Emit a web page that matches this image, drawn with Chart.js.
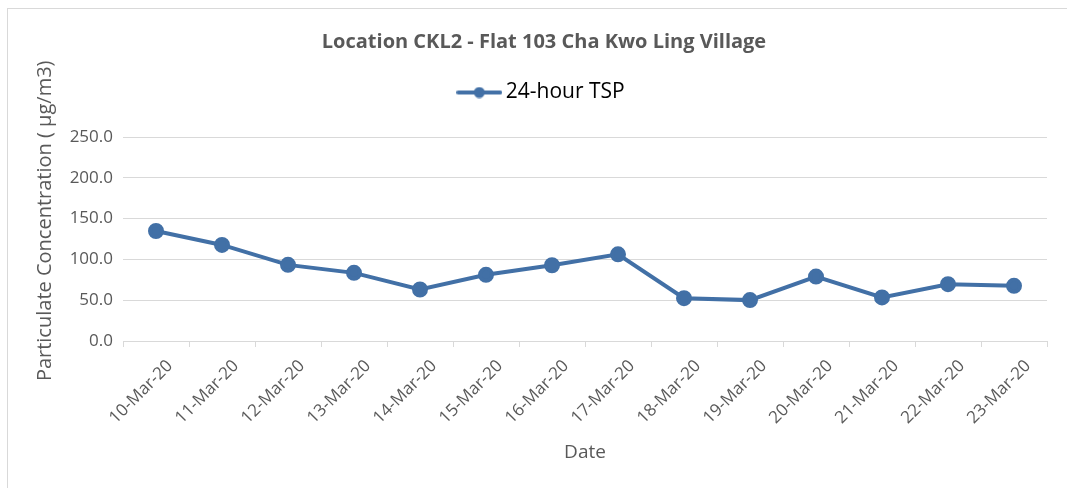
<!DOCTYPE html>
<html>
<head>
<meta charset="utf-8">
<script src="https://cdn.jsdelivr.net/npm/chart.js@4/dist/chart.umd.min.js"></script>
<style>
  html, body { margin: 0; padding: 0; background: #fff; }
  #wrap { position: relative; width: 1067px; height: 488px; }
  #frame { position: absolute; left: 7px; top: 8px; width: 1070px; height: 490px; border: 1px solid #d9d9d9; box-sizing: border-box; }
  canvas { position: absolute; left: 0; top: 0; }
</style>
</head>
<body>
<div id="wrap">
  <div id="frame"></div>
  <canvas id="myChart" width="1067" height="488"></canvas>
</div>
<script>
const dates = ['10-Mar-20', '11-Mar-20', '12-Mar-20', '13-Mar-20', '14-Mar-20', '15-Mar-20', '16-Mar-20',
    '17-Mar-20', '18-Mar-20', '19-Mar-20', '20-Mar-20', '21-Mar-20', '22-Mar-20', '23-Mar-20'];
const tsp = [134.8, 117.7, 93.3, 83.5, 63.1, 81.1, 92.8, 106.2, 52.5, 50.1, 79.0, 53.4, 69.6, 67.6];
const seriesName = '24-hour TSP';

const blue = '#4270a6';
const grey = '#595959';
const font = '"Open Sans", "Noto Sans", sans-serif';

// legend marker: line with a dot, like the office chart
const marker = document.createElement('canvas');
marker.width = 46;
marker.height = 12;
const m = marker.getContext('2d');
m.strokeStyle = blue;
m.lineWidth = 4;
m.lineCap = 'round';
m.beginPath();
m.moveTo(2, 6);
m.lineTo(44, 6);
m.stroke();
m.fillStyle = blue;
m.beginPath();
m.arc(23, 6, 5.5, 0, Math.PI * 2);
m.fill();

// leaves some room between the legend and the plot
const legendGap = {
    id: 'legendGap',
    beforeInit(chart) {
        const fit = chart.legend.fit;
        chart.legend.fit = function () {
            fit.call(this);
            this.height += 24;
        };
    },
};

const ctx = document.getElementById('myChart').getContext('2d');

new Chart(ctx, {
    type: 'line',
    plugins: [legendGap],
    data: {
        labels: dates,
        datasets: [
            {
                label: seriesName,
                data: tsp,
                borderColor: blue,
                backgroundColor: blue,
                borderWidth: 4,
                pointRadius: 6,
                pointHoverRadius: 6,
                pointStyle: 'circle',
                tension: 0,
                fill: false,
            },
        ],
    },
    options: {
        responsive: false,
        animation: false,
        layout: {
            padding: { left: 41, right: 20, top: 20, bottom: 10 },
        },
        plugins: {
            title: {
                display: true,
                text: 'Location CKL2 - Flat 103 Cha Kwo Ling Village',
                color: grey,
                font: { family: font, size: 20, weight: 'bold' },
                padding: { top: 10, bottom: 4 },
            },
            legend: {
                display: true,
                position: 'top',
                labels: {
                    usePointStyle: true,
                    pointStyle: marker,
                    pointStyleWidth: 32,
                    color: '#000',
                    font: { family: font, size: 21 },
                    padding: 24,
                    generateLabels: (chart) => [{
                        text: seriesName,
                        pointStyle: marker,
                        fontColor: '#000',
                        datasetIndex: 0,
                        lineWidth: 0,
                    }],
                },
            },
            tooltip: { enabled: false },
        },
        scales: {
            x: {
                offset: true,
                afterFit: (s) => { s.height = 137; },
                grid: {
                    offset: true,
                    drawOnChartArea: false,
                    drawTicks: true,
                    tickLength: 6,
                    color: '#d9d9d9',
                },
                border: { color: '#d9d9d9', width: 1 },
                ticks: {
                    color: grey,
                    font: { family: font, size: 17 },
                    minRotation: 45,
                    maxRotation: 45,
                    autoSkip: false,
                    labelOffset: 14,
                    padding: 9,
                },
                title: {
                    display: true,
                    text: 'Date',
                    color: grey,
                    font: { family: font, size: 19 },
                    padding: { top: 6, bottom: 14 },
                },
            },
            y: {
                min: 0,
                max: 250,
                afterFit: (s) => { s.width = 82; },
                grid: { color: '#d9d9d9', drawTicks: false },
                border: { display: false },
                ticks: {
                    stepSize: 50,
                    color: grey,
                    padding: 10,
                    font: { family: font, size: 17 },
                    callback: (v) => v.toFixed(1),
                },
                title: {
                    display: true,
                    text: '\u00a0\u00a0\u00a0\u00a0\u00a0\u00a0\u00a0Particulate Concentration ( μg/m3)',
                    color: grey,
                    font: { family: font, size: 20 },
                    padding: { top: -8, bottom: 0 },
                },
            },
        },
    },
});
</script>
</body>
</html>
